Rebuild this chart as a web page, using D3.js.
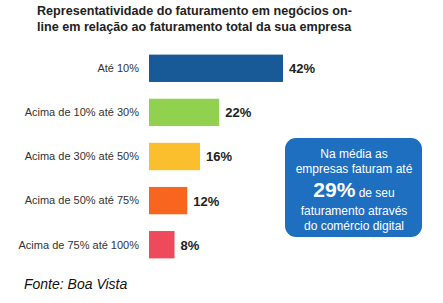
<!DOCTYPE html>
<meta charset="utf-8">
<style>
body { margin: 0; background: #fff; font-family: 'Liberation Sans', Arial, sans-serif; }
.title { font-size: 12.6px; font-weight: bold; fill: #222; }
.cat { font-size: 11px; fill: #333; }
.val { font-size: 13px; font-weight: bold; fill: #222; }
.note { font-size: 12px; fill: #fff; }
.big { font-size: 21px; font-weight: bold; fill: #fff; }
.src { font-size: 14px; font-style: italic; fill: #111; }
</style>
<body>
<script src="https://d3js.org/d3.v7.min.js"></script>
<script>

var categories = ["Até 10%", "Acima de 10% até 30%", "Acima de 30% até 50%", "Acima de 50% até 75%", "Acima de 75% até 100%"];
var values = [42, 22, 16, 12, 8];
var colors = ["#185a98", "#92d050", "#fbbf2d", "#f7651f", "#ef4a5c"];
var titleLines = ["Representatividade do faturamento em negócios on-", "line em relação ao faturamento total da sua empresa"];

var svg = d3.select("body").append("svg")
    .attr("width", 443)
    .attr("height", 303);

svg.selectAll(".title")
    .data(titleLines)
    .enter().append("text")
    .attr("class", "title")
    .attr("x", 37)
    .attr("y", function(d, i) { return 15 + i * 16; })
    .text(function(d) { return d; });

var x = d3.scaleLinear().domain([0, 42]).range([149, 283]);
var y = d3.scaleBand().domain(categories).range([48, 265]).paddingInner(0.38).paddingOuter(0.15);

var rows = svg.selectAll(".row")
    .data(categories)
    .enter().append("g")
    .attr("class", "row");

rows.append("rect")
    .attr("x", x(0))
    .attr("y", function(d) { return y(d); })
    .attr("width", function(d, i) { return x(values[i]) - x(0); })
    .attr("height", y.bandwidth())
    .attr("fill", function(d, i) { return colors[i]; });

rows.append("text")
    .attr("class", "cat")
    .attr("x", 139)
    .attr("y", function(d) { return y(d) + y.bandwidth() / 2; })
    .attr("dy", "0.35em")
    .attr("text-anchor", "end")
    .text(function(d) { return d; });

rows.append("text")
    .attr("class", "val")
    .attr("x", function(d, i) { return x(values[i]) + 6; })
    .attr("y", function(d) { return y(d) + y.bandwidth() / 2; })
    .attr("dy", "0.38em")
    .text(function(d, i) { return values[i] + "%"; });

// callout box
svg.append("rect")
    .attr("x", 285)
    .attr("y", 138)
    .attr("width", 137)
    .attr("height", 99)
    .attr("rx", 11)
    .attr("fill", "#1e6fc0");

var cx = 354;
var noteLines = [["Na média as", 158], ["empresas faturam até", 173], ["faturamento através", 215], ["do comércio digital", 230]];
svg.selectAll(".note")
    .data(noteLines)
    .enter().append("text")
    .attr("class", "note")
    .attr("x", cx)
    .attr("y", function(d) { return d[1]; })
    .attr("text-anchor", "middle")
    .text(function(d) { return d[0]; });

var mid = svg.append("text")
    .attr("x", cx)
    .attr("y", 197)
    .attr("text-anchor", "middle");
mid.append("tspan").attr("class", "big").text("29%");
mid.append("tspan").attr("class", "note").text(" de seu");

svg.append("text")
    .attr("class", "src")
    .attr("x", 24)
    .attr("y", 289)
    .text("Fonte: Boa Vista");

</script>
</body>
